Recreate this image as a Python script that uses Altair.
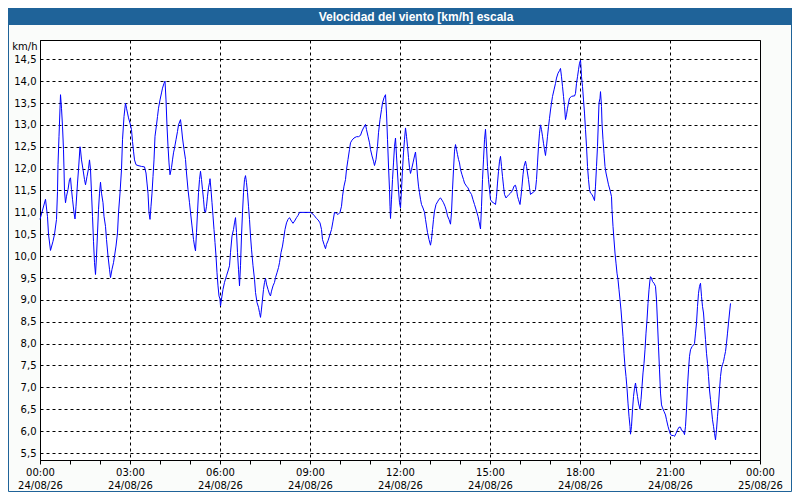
import altair as alt
import pandas as pd

titulo = "Velocidad del viento [km/h] escala"
unidad = "km/h"
fecha_inicio = "2026-08-24T00:00:00"

# (minutos desde 00:00, km/h)
tramo_1 = [(0, 10.84), (11, 11.3), (15, 10.9), (17, 10.5), (21, 10.13), (26, 10.34), (29, 10.5), (33, 10.84),
           (35, 11.48), (36, 12.1), (38, 12.74), (41, 13.69), (43, 13.38), (45, 12.97), (47, 12.43), (48, 11.98),
           (49, 11.48), (51, 11.22), (53, 11.37), (56, 11.52), (59, 11.75), (61, 11.79), (63, 11.52), (65, 11.3),
           (68, 10.99), (70, 10.85), (72, 11.14), (75, 11.67), (77, 11.98), (80, 12.5), (81, 12.43), (83, 12.2),
           (86, 11.98), (89, 11.75), (91, 11.63), (94, 11.82), (97, 12.0), (99, 12.2), (101, 11.98), (103, 11.44),
           (105, 10.91), (107, 10.34), (109, 9.85), (111, 9.58), (113, 10.0), (115, 10.53), (117, 11.06), (119, 11.44),
           (121, 11.69), (123, 11.44), (126, 11.22), (128, 10.91), (131, 10.68), (133, 10.38), (136, 10.0), (139, 9.7),
           (141, 9.51), (144, 9.7), (147, 9.85), (149, 10.0), (152, 10.23), (155, 10.53), (157, 10.99), (160, 11.44),
           (163, 11.98), (165, 12.66), (168, 13.19), (171, 13.5), (173, 13.38), (175, 13.27), (177, 13.16), (180, 13.04),
           (183, 12.89), (185, 12.62), (187, 12.4), (189, 12.2), (192, 12.09), (196, 12.07), (203, 12.05), (209, 12.04),
           (212, 11.9), (214, 11.67), (216, 11.44), (218, 10.99), (220, 10.84), (222, 11.14), (224, 11.44), (226, 11.82),
           (228, 12.2), (230, 12.74), (233, 13.0), (235, 13.19), (237, 13.38), (240, 13.57), (243, 13.73), (245, 13.84),
           (248, 13.95), (250, 14.0), (252, 13.57), (254, 12.97), (256, 12.51), (258, 12.13), (260, 11.86), (263, 12.02),
           (265, 12.2), (267, 12.36), (269, 12.47), (272, 12.66), (275, 12.85), (277, 13.0)]

tramo_2 = [(281, 13.12), (283, 12.93), (285, 12.7), (288, 12.44), (291, 12.21), (293, 11.9), (296, 11.52), (299, 11.22),
           (301, 11.0), (304, 10.69), (307, 10.38), (309, 10.23), (311, 10.12), (313, 10.54), (315, 11.0), (317, 11.45),
           (319, 11.75), (321, 11.94), (323, 11.75), (325, 11.52), (327, 11.3), (329, 11.03), (331, 11.0), (333, 11.14),
           (335, 11.37), (337, 11.56), (339, 11.68), (340, 11.77), (342, 11.52), (344, 11.22), (346, 10.92), (348, 10.61),
           (350, 10.31), (352, 10.0), (354, 9.62), (356, 9.32), (358, 9.09), (360, 9.02), (361, 8.86), (363, 9.02),
           (366, 9.24), (369, 9.4), (373, 9.55), (376, 9.66), (379, 9.78), (381, 10.08), (384, 10.46), (387, 10.61),
           (389, 10.76), (391, 10.88), (393, 10.54), (395, 10.08), (397, 9.7), (399, 9.32), (401, 9.78), (403, 10.46),
           (405, 11.0), (407, 11.45), (409, 11.75), (411, 11.84), (413, 11.68), (415, 11.45), (417, 11.14), (419, 10.84),
           (421, 10.46), (423, 10.16), (426, 9.78), (429, 9.47), (431, 9.17), (434, 8.94), (437, 8.83), (439, 8.71),
           (441, 8.6), (443, 8.79), (445, 9.02), (447, 9.24), (449, 9.4), (451, 9.49), (453, 9.36), (456, 9.24),
           (459, 9.13), (461, 9.09), (463, 9.2), (466, 9.32), (469, 9.4), (471, 9.51), (474, 9.62), (477, 9.74),
           (479, 9.85), (482, 10.08), (485, 10.23), (487, 10.38), (490, 10.61), (493, 10.76), (496, 10.84), (499, 10.88),
           (503, 10.8), (506, 10.75), (509, 10.8), (513, 10.88), (516, 10.93), (519, 11.0), (541, 11.0), (546, 10.96),
           (549, 10.92), (553, 10.86), (556, 10.83)]

tramo_3 = [(560, 10.76), (563, 10.61), (565, 10.38), (568, 10.27), (571, 10.17), (573, 10.27), (576, 10.35), (579, 10.46),
           (583, 10.61), (586, 10.8), (589, 11.0), (593, 10.98), (596, 10.95), (600, 11.0), (603, 11.14), (605, 11.37),
           (608, 11.6), (611, 11.75), (613, 11.98), (616, 12.21), (619, 12.44), (621, 12.59), (624, 12.65), (628, 12.7),
           (633, 12.73), (637, 12.73), (641, 12.76), (644, 12.86), (647, 12.93), (651, 13.01), (653, 12.89), (656, 12.74),
           (659, 12.59), (661, 12.44), (664, 12.29), (667, 12.17), (669, 12.07), (672, 12.21), (675, 12.51), (677, 12.82),
           (680, 13.12), (683, 13.35), (685, 13.5), (688, 13.62), (691, 13.69), (693, 13.27), (695, 12.67), (697, 12.06),
           (699, 11.52), (700, 11.14), (701, 10.86), (703, 11.3), (705, 11.75), (707, 12.13), (709, 12.51), (711, 12.7),
           (713, 12.29), (715, 11.9), (717, 11.52), (719, 11.22), (721, 11.1), (723, 11.52), (725, 11.98), (727, 12.36),
           (729, 12.67), (731, 12.93), (733, 12.74), (735, 12.51), (737, 12.25), (739, 12.02), (741, 11.89), (743, 11.98),
           (746, 12.13), (749, 12.29), (751, 12.38), (753, 12.13), (755, 11.83), (757, 11.6), (759, 11.45), (761, 11.3),
           (763, 11.18), (766, 11.1), (769, 11.0), (771, 10.84), (773, 10.69), (775, 10.54), (778, 10.38), (781, 10.25),
           (783, 10.38), (785, 10.61), (787, 10.84), (789, 11.03), (792, 11.18), (795, 11.24), (798, 11.3), (801, 11.33),
           (804, 11.28), (807, 11.22), (810, 11.14), (813, 11.03), (815, 10.92), (818, 10.84), (821, 10.73), (823, 11.0),
           (825, 11.52), (827, 11.98), (829, 12.4), (831, 12.55), (833, 12.44), (835, 12.32), (837, 12.21)]

tramo_4 = [(839, 12.13), (841, 11.98), (844, 11.86), (847, 11.75), (849, 11.67), (853, 11.6), (856, 11.56), (859, 11.48),
           (863, 11.41), (866, 11.29), (869, 11.18), (873, 11.03), (876, 10.91), (878, 10.8), (881, 10.62), (883, 11.14),
           (885, 11.75), (887, 12.2), (889, 12.66), (891, 12.9), (893, 12.51), (895, 12.05), (897, 11.75), (899, 11.52),
           (901, 11.29), (904, 11.24), (908, 11.21), (911, 11.18), (913, 11.37), (915, 11.67), (917, 11.94), (919, 12.17),
           (921, 12.28), (923, 12.05), (925, 11.82), (927, 11.6), (929, 11.41), (932, 11.33), (935, 11.37), (938, 11.41),
           (941, 11.44), (945, 11.5), (948, 11.6), (951, 11.62), (953, 11.52), (955, 11.37), (957, 11.29), (960, 11.18),
           (962, 11.37), (964, 11.6), (966, 11.86), (968, 12.05), (971, 12.17), (973, 12.05), (975, 11.9), (977, 11.75),
           (979, 11.56), (981, 11.41), (984, 11.44), (987, 11.46), (991, 11.52), (993, 11.75), (995, 12.13), (997, 12.51),
           (999, 12.81), (1001, 13.0), (1003, 12.89), (1005, 12.74), (1007, 12.58), (1009, 12.43), (1011, 12.3), (1013, 12.51),
           (1015, 12.74), (1017, 12.96), (1019, 13.15), (1021, 13.34), (1023, 13.5), (1025, 13.65), (1028, 13.8), (1031, 13.95),
           (1033, 14.07), (1036, 14.18), (1039, 14.24), (1041, 14.29), (1043, 14.1), (1045, 13.88), (1047, 13.65), (1049, 13.42),
           (1051, 13.12), (1053, 13.23), (1055, 13.38), (1057, 13.5), (1059, 13.61), (1063, 13.65), (1066, 13.66), (1069, 13.66),
           (1071, 13.72), (1073, 13.95), (1075, 14.1), (1077, 14.26), (1079, 14.41), (1081, 14.48), (1082, 14.33), (1083, 14.1),
           (1085, 13.88), (1087, 13.57), (1089, 13.27), (1091, 12.89), (1093, 12.51), (1095, 12.05), (1097, 11.75), (1099, 11.52),
           (1101, 11.44), (1104, 11.41), (1107, 11.33), (1109, 11.27), (1111, 11.6), (1113, 12.05), (1115, 12.51)]

tramo_5 = [(1118, 13.5), (1120, 13.61), (1121, 13.76), (1123, 13.42), (1124, 13.04), (1126, 12.66), (1128, 12.35), (1130, 12.05),
           (1132, 11.9), (1135, 11.74), (1137, 11.63), (1140, 11.51), (1143, 11.36), (1144, 11.06), (1146, 10.68), (1148, 10.37),
           (1150, 10.07), (1152, 9.84), (1154, 9.61), (1156, 9.46), (1158, 9.23), (1160, 9.0), (1162, 8.77), (1164, 8.47),
           (1166, 8.16), (1168, 7.78), (1170, 7.48), (1172, 7.25), (1174, 6.98), (1176, 6.64), (1178, 6.34), (1180, 6.11),
           (1181, 5.93), (1183, 6.11), (1185, 6.49), (1187, 6.79), (1189, 6.98), (1191, 7.1), (1193, 6.94), (1195, 6.79),
           (1197, 6.64), (1200, 6.5), (1202, 6.72), (1204, 7.02), (1206, 7.33), (1208, 7.55), (1210, 7.86), (1212, 8.24),
           (1214, 8.54), (1216, 8.92), (1218, 9.23), (1220, 9.46), (1221, 9.53), (1223, 9.5), (1225, 9.42), (1228, 9.38),
           (1231, 9.31), (1233, 9.0), (1235, 8.47), (1237, 7.93), (1239, 7.4), (1241, 6.87), (1243, 6.6), (1245, 6.53),
           (1248, 6.45), (1251, 6.37), (1253, 6.26), (1256, 6.11), (1259, 5.99), (1261, 5.92), (1264, 5.9), (1267, 5.9),
           (1269, 5.88), (1272, 5.95), (1275, 6.03), (1278, 6.09), (1281, 6.09), (1283, 6.02), (1287, 5.99), (1289, 5.92),
           (1291, 6.11), (1293, 6.5), (1295, 7.02), (1297, 7.4), (1299, 7.71), (1301, 7.86), (1304, 7.93), (1307, 7.97),
           (1309, 8.0), (1311, 8.24), (1313, 8.47), (1315, 8.85), (1317, 9.15), (1319, 9.31), (1321, 9.38), (1323, 9.08),
           (1325, 8.85), (1327, 8.7), (1329, 8.39), (1331, 8.09), (1333, 7.78), (1335, 7.55), (1337, 7.25), (1339, 6.94),
           (1341, 6.72), (1343, 6.49), (1345, 6.26), (1347, 6.11), (1349, 5.95), (1351, 5.8), (1353, 6.03), (1355, 6.34),
           (1357, 6.6), (1359, 6.94), (1361, 7.25), (1363, 7.44), (1365, 7.52), (1367, 7.59), (1369, 7.71), (1371, 7.82),
           (1373, 8.01), (1375, 8.24), (1377, 8.47), (1379, 8.7), (1381, 8.92)]

marcas_y = [5.5, 6.0, 6.5, 7.0, 7.5, 8.0, 8.5, 9.0, 9.5, 10.0, 10.5, 11.0, 11.5, 12.0, 12.5, 13.0, 13.5, 14.0, 14.5]
dominio_y = [5.34, 14.94]
horas_marcas = list(range(0, 25))

FONT = "DejaVu Sans"
AZUL_BANDA = "#1f6399"
FONDO = "#fafcfa"

base = pd.Timestamp(fecha_inicio)
puntos = tramo_1 + tramo_2 + tramo_3 + tramo_4 + tramo_5
df = pd.DataFrame({
    "hora": [(base + pd.Timedelta(minutes=m)).strftime("%Y-%m-%dT%H:%M:%S") for m, _ in puntos],
    "vel": [v for _, v in puntos],
})


def dt(h):
    t = base + pd.Timedelta(hours=h)
    return alt.DateTime(year=t.year, month=t.month, date=t.day, hours=t.hour, minutes=0)


x_axis = alt.Axis(
    values=[dt(h) for h in horas_marcas],
    title=None,
    grid=True,
    gridColor="black",
    gridDash=[3, 3],
    gridWidth=1,
    gridOpacity={"condition": {"test": "hours(datum.value) % 3 === 0", "value": 1}, "value": 0},
    labelExpr="hours(datum.value) % 3 === 0 ? [timeFormat(datum.value, '%H:%M'), timeFormat(datum.value, '%d/%m/%y')] : ''",
    labelFont=FONT,
    labelFontSize=10,
    labelColor="black",
    labelPadding=3,
    labelLineHeight=13,
    labelOverlap=False,
    labelFlush=False,
    labelBound=False,
    tickColor="black",
    tickSize=4,
    domainColor="black",
)

y_axis = alt.Axis(
    values=marcas_y,
    title=unidad,
    titleAngle=0,
    titleAlign="right",
    titleBaseline="middle",
    titleX=-3,
    titleY=6,
    titleFont=FONT,
    titleFontSize=10,
    titleFontWeight="normal",
    titleColor="black",
    labelExpr="replace(format(datum.value, '.1f'), '.', ',')",
    labelFont=FONT,
    labelFontSize=10,
    labelColor="black",
    labelPadding=4,
    grid=True,
    gridColor="black",
    gridDash=[3, 3],
    gridWidth=1,
    ticks=False,
    domainColor="black",
)

linea = alt.Chart(df).mark_line(color="#0000ff", strokeWidth=1).encode(
    x=alt.X("hora:T", scale=alt.Scale(domain=[dt(0), dt(24)], nice=False), axis=x_axis),
    y=alt.Y("vel:Q", scale=alt.Scale(domain=dominio_y, nice=False, zero=False), axis=y_axis),
)

uno = pd.DataFrame({"k": [0]})
banda = alt.Chart(uno).mark_rect(color=AZUL_BANDA).encode(
    x=alt.value(-32), x2=alt.value(752), y=alt.value(-32), y2=alt.value(-15)
)
marco = alt.Chart(uno).mark_rect(filled=False, stroke=AZUL_BANDA, strokeWidth=1).encode(
    x=alt.value(-31.5), x2=alt.value(751.5), y=alt.value(-31.5), y2=alt.value(451.5)
)
texto_titulo = alt.Chart(uno).mark_text(
    text=titulo, font="Liberation Sans", fontSize=12, fontWeight="bold", color="white",
    align="center", baseline="middle"
).encode(x=alt.value(376), y=alt.value(-23))

chart = alt.layer(banda, marco, linea, texto_titulo).properties(
    width=720,
    height=420,
    padding={"left": 32, "top": 32, "right": 32, "bottom": 32},
    autosize=alt.AutoSizeParams(type="none"),
    background=FONDO,
).configure_view(stroke="black", strokeWidth=1, fill="white")

chart.save("out.html", embed_options={"renderer": "svg", "actions": False})
